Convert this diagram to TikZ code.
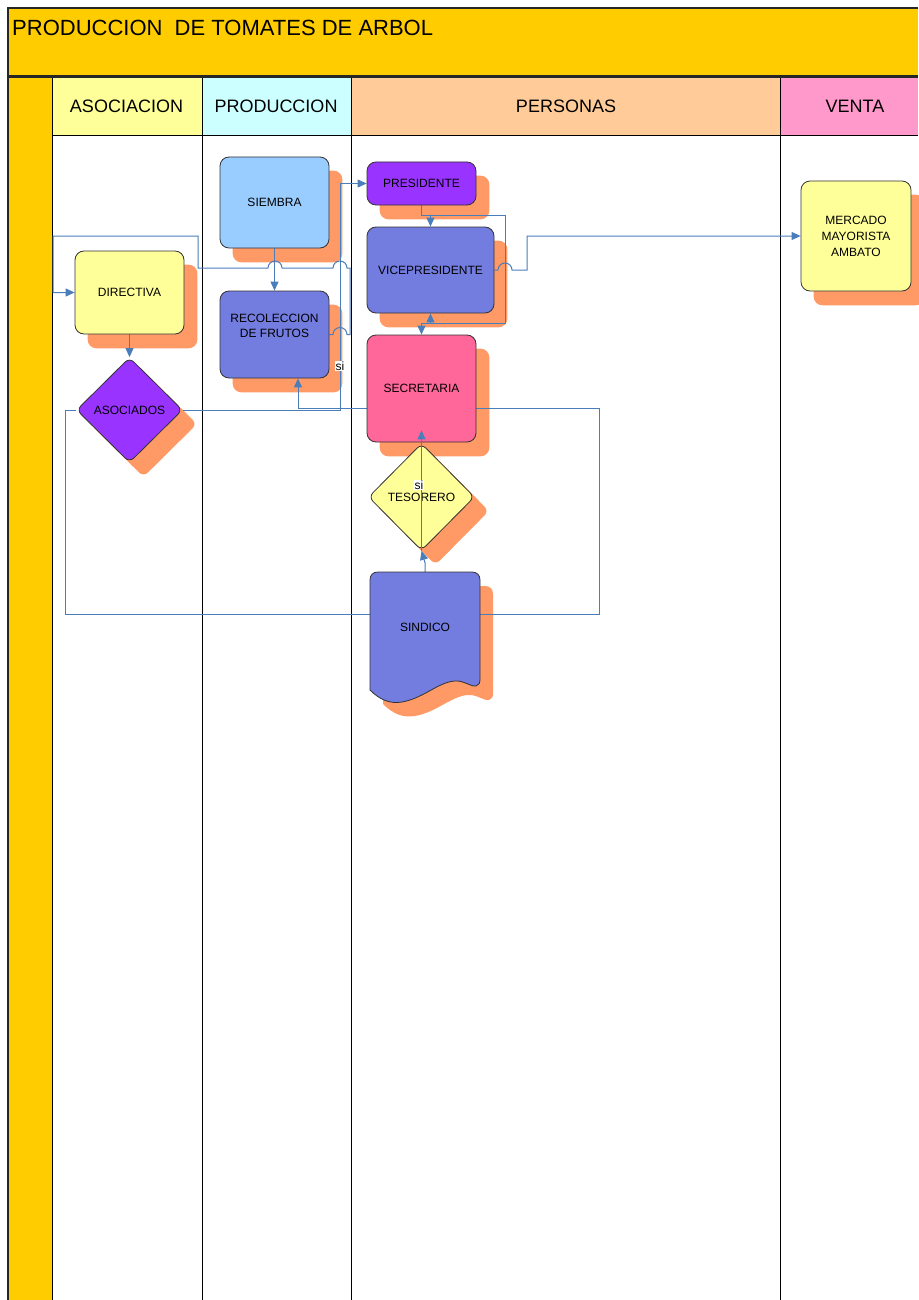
\documentclass[tikz,border=0pt]{standalone}
\usepackage{fontspec}
\setmainfont{Liberation Sans}
\usetikzlibrary{shapes.geometric,arrows.meta,calc}
\definecolor{titlec}{HTML}{FFCC00}
\definecolor{asocc}{HTML}{FFFF99}
\definecolor{prodc}{HTML}{CCFFFF}
\definecolor{persc}{HTML}{FFCC99}
\definecolor{ventac}{HTML}{FF99CC}
\definecolor{shadc}{HTML}{FF9966}
\definecolor{bluec}{HTML}{737CDF}
\definecolor{purplec}{HTML}{9933FF}
\definecolor{pinkc}{HTML}{FF6699}
\definecolor{skyc}{HTML}{99CCFF}
\definecolor{linec}{HTML}{4A7EBB}
\pgfdeclarelayer{bg}
\pgfdeclarelayer{shad}
\pgfdeclarelayer{lines}
\pgfdeclarelayer{top}
\pgfsetlayers{bg,shad,lines,main,top}
\tikzset{
  box/.style={draw=black!80, line width=0.8pt, rounded corners=9pt, inner sep=2pt, align=center, font=\fontsize{12}{16}\selectfont},
  dia/.style={diamond, draw=black!80, line width=0.8pt, rounded corners=6pt, inner sep=0pt, font=\fontsize{12}{16}\selectfont},
  conn/.style={draw=linec, line width=1pt},
  arr/.style={conn, -{Triangle[length=9pt,width=8pt]}},
  lane/.style={draw=black, line width=1pt},
  head/.style={anchor=base, font=\fontsize{18}{22}\selectfont},
  lbl/.style={fill=white, inner sep=1pt, font=\fontsize{12}{14}\selectfont},
  nodetext/.style={align=center, font=\fontsize{12}{15}\selectfont, inner sep=0pt},
}
\begin{document}
\begin{tikzpicture}[x=1pt,y=-1pt]
\useasboundingbox (0,0) rectangle (918,1300);

% ---------- background lanes ----------
\begin{pgfonlayer}{bg}
\fill[titlec] (8,8) rectangle (918,77);
\fill[titlec] (8,77) rectangle (52,1300);
\fill[asocc] (52,77) rectangle (202,136);
\fill[prodc] (202,77) rectangle (351,136);
\fill[persc] (351,77) rectangle (780,136);
\fill[ventac] (780,77) rectangle (918,136);
\draw[line width=1.5pt, draw=black!85] (918,8) -- (8,8) -- (8,1300);
\draw[lane] (52,77) -- (52,1300) (202,77) -- (202,1300) (351,77) -- (351,1300) (780,77) -- (780,1300);
\draw[lane] (52,136) -- (918,136);
\draw[line width=2.5pt, draw=black!85] (8,76.5) -- (918,76.5);
\end{pgfonlayer}

\node[anchor=base west, font=\fontsize{22}{26}\selectfont, inner sep=0pt] (title) at (12,36) {PRODUCCION\ \ DE TOMATES DE ARBOL};
\node[head] (hasoc) at (126.5,113) {ASOCIACION};
\node[head] (hprod) at (276,113) {PRODUCCION};
\node[head] (hpers) at (566,113) {PERSONAS};
\node[head] (hventa) at (855,113) {VENTA};

% ---------- nodes ----------
\node[box, fill=skyc, minimum width=109pt, minimum height=91pt] (siembra) at (274.5,202.5) {SIEMBRA};
\node[box, fill=bluec, minimum width=109pt, minimum height=87pt] (recoleccion) at (274.5,334.5) {};
\node[nodetext] (recoleccionTxt) at (274.5,326) {RECOLECCION\\DE FRUTOS};
\node[box, fill=asocc, minimum width=109pt, minimum height=83pt] (directiva) at (129.5,292.5) {DIRECTIVA};
\node[dia, fill=purplec, minimum width=106pt, minimum height=105pt] (asociados) at (129.5,410) {ASOCIADOS};
\node[box, fill=purplec, minimum width=109pt, minimum height=43pt] (presidente) at (421.5,183.5) {PRESIDENTE};
\node[box, fill=bluec, minimum width=127pt, minimum height=86pt] (vicepresidente) at (430.5,270) {VICEPRESIDENTE};
\node[box, fill=pinkc, minimum width=109pt, minimum height=107pt] (secretaria) at (421.5,388.5) {SECRETARIA};
\node[dia, fill=asocc, minimum width=106pt, minimum height=107pt] (tesorero) at (421.5,497) {TESORERO};
\node[box, fill=asocc, minimum width=110pt, minimum height=110pt] (mercado) at (856,236) {MERCADO\\MAYORISTA\\AMBATO};

% SINDICO document shape
\path[fill=bluec, draw=black!80, line width=0.8pt]
  (370,580) -- (370,690)
  .. controls (380,700) and (390,704) .. (402,702)
  .. controls (425,698) and (440,680) .. (458,681)
  .. controls (466,682) and (472,687) .. (476,686)
  .. controls (479,685) and (480,683) .. (480,679)
  -- (480,580) .. controls (480,575) and (477,572) .. (472,572)
  -- (378,572) .. controls (373,572) and (370,575) .. (370,580) -- cycle;
\node[nodetext, minimum width=110pt, minimum height=110pt] (sindico) at (425,627) {SINDICO};

% ---------- shadows ----------
\begin{pgfonlayer}{shad}
\foreach \n in {siembra,recoleccion,directiva,presidente,vicepresidente,secretaria,mercado}
  \fill[shadc, rounded corners=9pt] ($(\n.south west)+(13,14)$) rectangle ($(\n.north east)+(13,14)$);
\foreach \n in {asociados,tesorero}
  \fill[shadc, rounded corners=6pt] ($(\n.north)+(14,14)$) -- ($(\n.east)+(14,14)$) -- ($(\n.south)+(14,14)$) -- ($(\n.west)+(14,14)$) -- cycle;
\fill[shadc, shift={(13,14)}]
  (370,580) -- (370,690)
  .. controls (380,700) and (390,704) .. (402,702)
  .. controls (425,698) and (440,680) .. (458,681)
  .. controls (466,682) and (472,687) .. (476,686)
  .. controls (479,685) and (480,683) .. (480,679)
  -- (480,580) .. controls (480,575) and (477,572) .. (472,572)
  -- (378,572) .. controls (373,572) and (370,575) .. (370,580) -- cycle;
\end{pgfonlayer}

% ---------- connectors ----------
\begin{pgfonlayer}{lines}
\coordinate (pvtop) at (430.5,215);
\coordinate (pvbot) at (430.5,323);
\draw[arr] (siembra.south) -- (recoleccion.north);
\draw[arr] (recoleccion.east) -- (333,334.5) arc[start angle=180,end angle=0,radius=7pt] -- (350,334.5) -- (350,268)
  -- (347,268) arc[start angle=0,end angle=180,radius=7pt] -- (282,268) arc[start angle=0,end angle=180,radius=7pt]
  -- (198,268) -- (198,236) -- (53,236) -- (53,292.5) -- (directiva.west);
\draw[arr] (directiva.south) -- (asociados.north);
\draw[arr] (asociados.east) -- (340,410) -- (340,183.5) -- (presidente.west);
\draw[arr] (presidente.south) -- (421.5,215) -- (505,215) -- (505,323) -- (421.5,323) -- (secretaria.north);
\draw[arr] (pvtop) -- (vicepresidente.north);
\draw[arr] (pvbot) -- (vicepresidente.south);
\draw[arr] (vicepresidente.east) -- (498,270) arc[start angle=180,end angle=0,radius=7pt] -- (527,270) -- (527,236) -- (mercado.west);
\draw[arr] ($(sindico.east)+(0,-13)$) -- (599,614) -- (599,408) -- (298,408) -- ($(recoleccion.south)+(23.5,0)$);
\draw[conn] (asociados.west) -- (65,410) -- (65,614) -- ($(sindico.west)+(0,-13)$);
\draw[arr] (sindico.north) -- ++(0,-9) -- (tesorero.south);
\end{pgfonlayer}

\begin{pgfonlayer}{top}
\draw[arr] (tesorero.south) -- ($(secretaria.south)+(0,-12)$);
\node[lbl] (si1) at (340,366) {si};
\node[lbl] (si2) at (419,485) {si};
\end{pgfonlayer}
\end{tikzpicture}
\end{document}
